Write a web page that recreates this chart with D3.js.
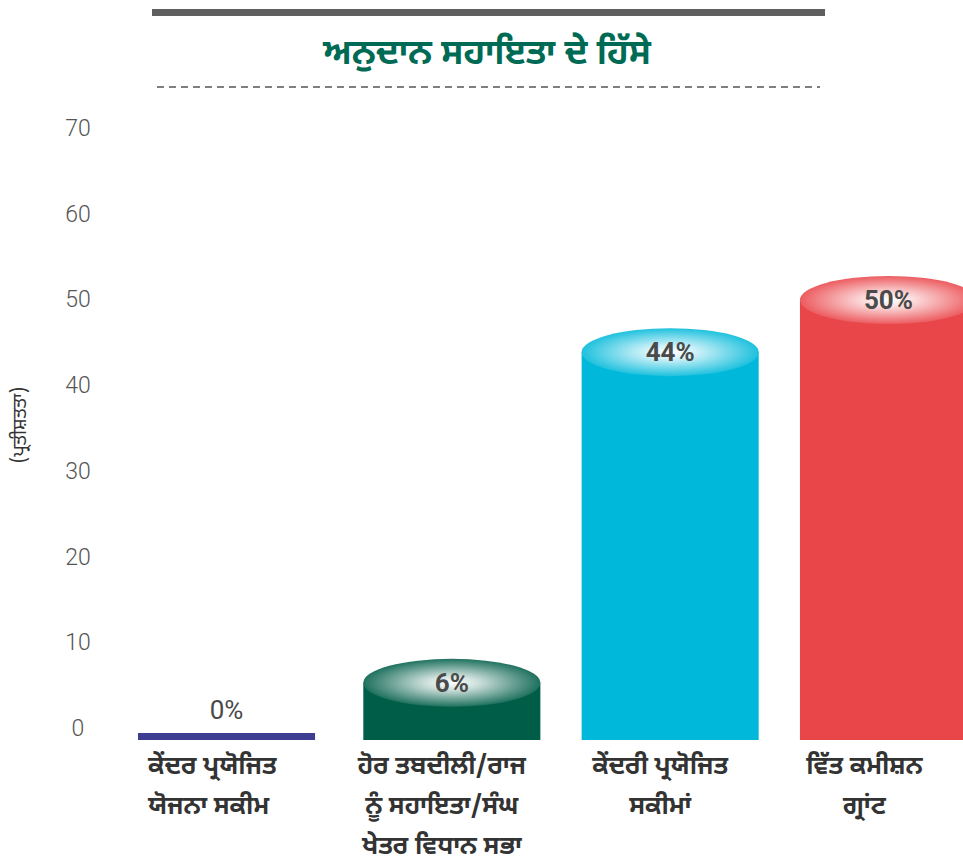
<!DOCTYPE html>
<html>
<head>
<meta charset="utf-8">
<script src="https://cdn.jsdelivr.net/npm/d3@7"></script>
<style>
  body { margin: 0; background: #fff; }
  svg { display: block; }
</style>
</head>
<body>
<div id="chart"></div>
<script>
const categories = ["central-scheme", "other-transfers", "css", "fc-grant"];
const labelLines = [
  ["ਕੇਂਦਰ ਪ੍ਰਯੋਜਿਤ", "ਯੋਜਨਾ ਸਕੀਮ"],
  ["ਹੋਰ ਤਬਦੀਲੀ/ਰਾਜ", "ਨੂੰ ਸਹਾਇਤਾ/ਸੰਘ", "ਖੇਤਰ ਵਿਧਾਨ ਸਭਾ"],
  ["ਕੇਂਦਰੀ ਪ੍ਰਯੋਜਿਤ", "ਸਕੀਮਾਂ"],
  ["ਵਿੱਤ ਕਮੀਸ਼ਨ", "ਗ੍ਰਾਂਟ"]
];
const values = [0, 6, 44, 50];
const colors = ["#3d3d91", "#005e48", "#00b9da", "#e9464a"];
const yTicks = [0, 10, 20, 30, 40, 50, 60, 70];
const title = "ਅਨੁਦਾਨ ਸਹਾਇਤਾ ਦੇ ਹਿੱਸੇ";
const yLabel = "(ਪ੍ਰਤੀਸ਼ਤਤਾ)";

const W = 963, H = 863;
const gurmukhi = "'Noto Sans Gurmukhi', 'Lohit Gurmukhi', 'Raavi', 'Noto Sans', sans-serif";

const svg = d3.select("#chart").append("svg")
  .attr("width", W).attr("height", H);

// header rules + title
svg.append("rect").attr("x", 152).attr("y", 9).attr("width", 673).attr("height", 7)
  .attr("fill", "#5f5f5f");
svg.append("text")
  .attr("x", 487).attr("y", 64)
  .attr("text-anchor", "middle")
  .style("font-family", gurmukhi)
  .style("font-weight", "bold")
  .style("font-size", "35px")
  .attr("fill", "#006b55")
  .text(title);
svg.append("line").attr("x1", 157).attr("x2", 820).attr("y1", 87).attr("y2", 87)
  .attr("stroke", "#555").attr("stroke-width", 1.5).attr("stroke-dasharray", "7 5");

// scales
const x = d3.scaleBand().domain(categories).range([145, 977]).paddingInner(0.189).paddingOuter(0);
const y = d3.scaleLinear().domain([0, 70]).range([735, 126]);
// tick labels sit on a slightly tighter grid than the bars in the original
const yTickPos = y.copy().range([728, 128]);
const base = 740;

// y tick labels (no axis line)
svg.append("g").selectAll("text").data(yTicks).join("text")
  .attr("x", 78).attr("y", (d) => yTickPos(d)).attr("dy", "0.35em")
  .attr("text-anchor", "middle")
  .style("font-family", "Roboto, sans-serif")
  .style("font-weight", "300")
  .style("font-size", "23px")
  .attr("fill", "#555")
  .text((d) => d);

svg.append("text")
  .attr("transform", "translate(26,425) rotate(-90)")
  .attr("text-anchor", "middle")
  .style("font-family", gurmukhi)
  .style("font-size", "19px")
  .attr("fill", "#333")
  .text(yLabel);

// gradients for cylinder tops
const defs = svg.append("defs");
colors.forEach((c, i) => {
  const g = defs.append("radialGradient").attr("id", "top" + i)
    .attr("cx", "50%").attr("cy", "50%").attr("r", "50%");
  g.append("stop").attr("offset", "0%").attr("stop-color", "#ffffff");
  g.append("stop").attr("offset", "30%").attr("stop-color", d3.interpolateRgb("#ffffff", c)(0.2));
  g.append("stop").attr("offset", "100%").attr("stop-color", d3.interpolateRgb(c, "#ffffff")(0.12));
});

const bars = svg.append("g").selectAll("g").data(categories).join("g");

bars.each(function (cat, i) {
  const g = d3.select(this);
  const v = values[i];
  const x0 = x(cat), bw = x.bandwidth(), cx = x0 + bw / 2;
  if (v === 0) {
    g.append("rect").attr("x", x0 - 7).attr("y", 733).attr("width", bw).attr("height", base - 733)
      .attr("fill", colors[i]);
    g.append("text").attr("x", cx - 7).attr("y", 719).attr("text-anchor", "middle")
      .style("font-family", "Roboto, sans-serif").style("font-size", "26px")
      .attr("fill", "#4a4a4a").text(v + "%");
    return;
  }
  const top = y(v);
  g.append("rect").attr("x", x0).attr("y", top).attr("width", bw).attr("height", base - top)
    .attr("fill", colors[i]);
  g.append("ellipse").attr("cx", cx).attr("cy", top).attr("rx", bw / 2).attr("ry", 24)
    .attr("fill", `url(#top${i})`);
  g.append("text").attr("x", cx).attr("y", top).attr("dy", "0.35em").attr("text-anchor", "middle")
    .style("font-family", "Roboto, sans-serif").style("font-size", "26px").style("font-weight", "bold")
    .attr("fill", "#4a4a4a").text(v + "%");
});

// category labels
bars.each(function (cat, i) {
  const first = i === 0;
  const t = d3.select(this).append("text")
    .attr("text-anchor", first ? "start" : "middle")
    .style("font-family", gurmukhi)
    .style("font-weight", "bold")
    .style("font-size", "25px")
    .attr("fill", "#333");
  labelLines[i].forEach((line, j) => {
    t.append("tspan")
      .attr("x", first ? x(cat) + 3 : x(cat) + x.bandwidth() / 2 - 10 - (i === 3 ? 14 : 0))
      .attr("y", 774 + j * 40)
      .text(line);
  });
});
</script>
</body>
</html>
